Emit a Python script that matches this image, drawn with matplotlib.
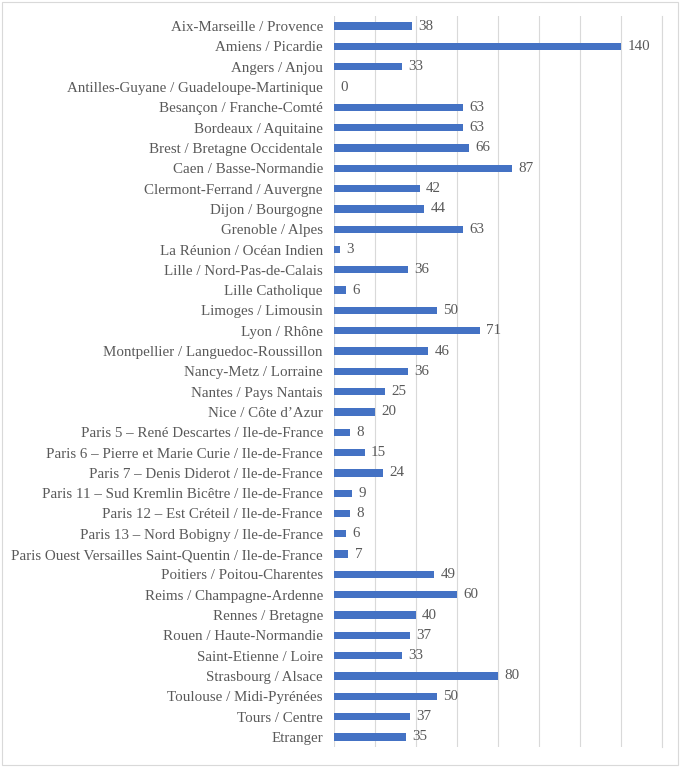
import numpy as np
import matplotlib
matplotlib.use("Agg")
import matplotlib.pyplot as plt
from matplotlib.patches import Rectangle

# categories, top to bottom as in the reference
labels = [
    "Aix-Marseille / Provence",
    "Amiens / Picardie",
    "Angers / Anjou",
    "Antilles-Guyane / Guadeloupe-Martinique",
    "Besançon / Franche-Comté",
    "Bordeaux / Aquitaine",
    "Brest / Bretagne Occidentale",
    "Caen / Basse-Normandie",
    "Clermont-Ferrand / Auvergne",
    "Dijon / Bourgogne",
    "Grenoble / Alpes",
    "La Réunion / Océan Indien",
    "Lille / Nord-Pas-de-Calais",
    "Lille Catholique",
    "Limoges / Limousin",
    "Lyon / Rhône",
    "Montpellier / Languedoc-Roussillon",
    "Nancy-Metz / Lorraine",
    "Nantes / Pays Nantais",
    "Nice / Côte d\u2019Azur",
    "Paris 5 \u2013 René Descartes / Ile-de-France",
    "Paris 6 \u2013 Pierre et Marie Curie / Ile-de-France",
    "Paris 7 \u2013 Denis Diderot / Ile-de-France",
    "Paris 11 \u2013 Sud Kremlin Bicêtre / Ile-de-France",
    "Paris 12 \u2013 Est Créteil / Ile-de-France",
    "Paris 13 \u2013 Nord Bobigny / Ile-de-France",
    "Paris Ouest Versailles Saint-Quentin / Ile-de-France",
    "Poitiers / Poitou-Charentes",
    "Reims / Champagne-Ardenne",
    "Rennes / Bretagne",
    "Rouen / Haute-Normandie",
    "Saint-Etienne / Loire",
    "Strasbourg / Alsace",
    "Toulouse / Midi-Pyrénées",
    "Tours / Centre",
    "Etranger",
]
values = [38, 140, 33, 0, 63, 63, 66, 87, 42, 44, 63, 3, 36, 6, 50, 71, 46, 36,
          25, 20, 8, 15, 24, 9, 8, 6, 7, 49, 60, 40, 37, 33, 80, 50, 37, 35]
x_ticks = [0, 20, 40, 60, 80, 100, 120, 140, 160]

bar_color = "#4472C4"
text_color = "#595959"

plt.rcParams["font.family"] = ["Liberation Serif", "DejaVu Serif"]

fig = plt.figure(figsize=(6.92, 7.71), dpi=100)
ax = fig.add_axes([334 / 692, 1 - 747 / 771, (662 - 334) / 692, (747 - 16) / 771])

y = np.arange(len(labels))
ax.barh(y, values, height=0.36, color=bar_color, zorder=3)
for yi, v in zip(y, values):
    ax.text(v + 3, yi, str(v), va="center", ha="left", fontsize=10.8, color=text_color)

ax.set_yticks(y)
ax.set_yticklabels(labels, fontsize=10.8, color=text_color)
ax.set_ylim(len(labels) - 0.5, -0.5)
ax.set_xlim(0, 160)
ax.set_xticks(x_ticks)
ax.set_xticklabels([])
ax.tick_params(length=0, pad=8)
ax.grid(axis="x", color="#D9D9D9", linewidth=0.8, zorder=0)
for s in ax.spines.values():
    s.set_visible(False)
# last gridline sits on the axes edge and gets clipped, draw it unclipped
ax.axvline(x_ticks[-1], color="#D9D9D9", linewidth=0.8, zorder=0, clip_on=False)

# outer chart border
fig.patches.append(Rectangle((2 / 692, 1 - 765 / 771), 676 / 692, 763 / 771,
                             transform=fig.transFigure, fill=False,
                             edgecolor="#D9D9D9", linewidth=0.8))

fig.savefig("out.png", dpi=100)
